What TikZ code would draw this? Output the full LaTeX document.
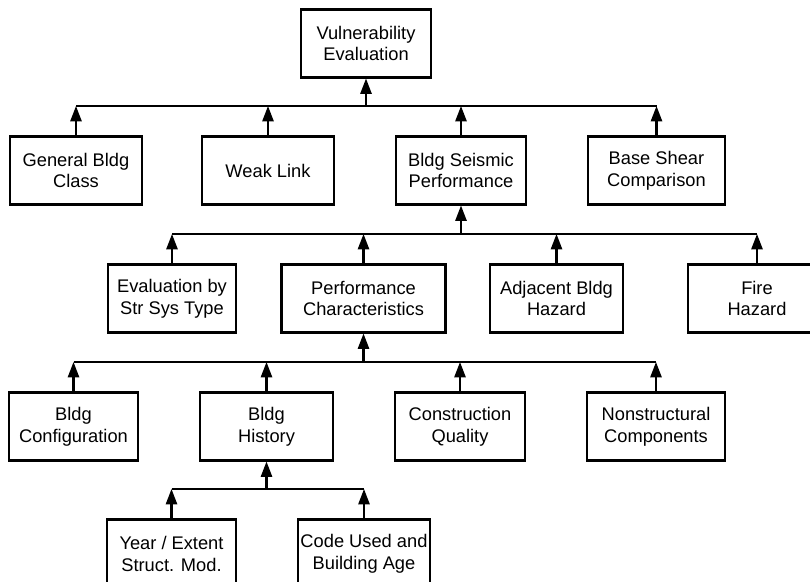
\documentclass[tikz,border=0pt]{standalone}
\usepackage{fontspec}
\setmainfont{Liberation Sans}
\usetikzlibrary{arrows.meta}

\begin{document}
\begin{tikzpicture}[x=0.025cm,y=-0.025cm,
	>={Triangle[length=11pt,width=8pt]},
	box/.style={draw,line width=2pt,align=center,inner sep=0pt,
		minimum height=1.68cm,font=\fontsize{13}{15.6}\selectfont},
	link/.style={line width=1.5pt}]

	\useasboundingbox (0,0) rectangle (810,582);
	\clip (0,0) rectangle (810,582);

	% top
	\node[box,minimum width=3.25cm] (vul) at (366,43.5) {Vulnerability\\Evaluation};

	% first row
	\node[box,minimum width=3.3cm] (gen) at (76,170.5) {General Bldg\\Class};
	\node[box,minimum width=3.3cm] (weak) at (268,170.5) {Weak Link};
	\node[box,minimum width=3.25cm] (seis) at (461,170.5) {Bldg Seismic\\Performance};
	\node[box,minimum width=3.42cm] (base) at (656.5,170.5) {Base Shear\\Comparison};

	% second row
	\node[box,minimum width=3.2cm] (evs) at (172,298.5) {Evaluation by\\Str Sys Type};
	\node[box,minimum width=4.08cm] (perf) at (363.5,298.5) {Performance\\Characteristics};
	\node[box,minimum width=3.32cm] (adj) at (556.5,298.5) {Adjacent Bldg\\Hazard};
	\node[box,minimum width=3.45cm] (fire) at (757,298.5) {Fire\\Hazard};

	% third row
	\node[box,minimum width=3.22cm] (conf) at (73.5,426.5) {Bldg\\Configuration};
	\node[box,minimum width=3.32cm] (hist) at (266.5,426.5) {Bldg\\History};
	\node[box,minimum width=3.25cm] (qual) at (460,426.5) {Construction\\Quality};
	\node[box,minimum width=3.45cm] (nonst) at (656,426.5) {Nonstructural\\Components};

	% fourth row
	\node[box,minimum width=3.22cm] (year) at (171.5,553.5) {Year / Extent\\Struct. Mod.};
	\node[box,minimum width=3.3cm] (code) at (364,553.5) {Code Used and\\Building Age};

	% buses
	\coordinate (b1) at (0,106);
	\coordinate (b2) at (0,234);
	\coordinate (b3) at (0,362);
	\coordinate (b4) at (0,489);

	\draw[link] (gen.north |- b1) -- (base.north |- b1);
	\draw[link] (evs.north |- b2) -- (fire.north |- b2);
	\draw[link] (conf.north |- b3) -- (nonst.north |- b3);
	\draw[link] (year.north |- b4) -- (code.north |- b4);

	% children
	\foreach \c in {gen,weak,seis,base}{
		\draw[link,->] (\c.north) -- (\c.north |- b1);
	}
	\foreach \c in {evs,perf,adj,fire}{
		\draw[link,->] (\c.north) -- (\c.north |- b2);
	}
	\foreach \c in {conf,hist,qual,nonst}{
		\draw[link,->] (\c.north) -- (\c.north |- b3);
	}
	\foreach \c in {year,code}{
		\draw[link,->] (\c.north) -- (\c.north |- b4);
	}

	% parents
	\draw[link,->] (vul.south |- b1) -- (vul.south);
	\draw[link,->] (seis.south |- b2) -- (seis.south);
	\draw[link,->] (perf.south |- b3) -- (perf.south);
	\draw[link,->] (hist.south |- b4) -- (hist.south);

\end{tikzpicture}
\end{document}
